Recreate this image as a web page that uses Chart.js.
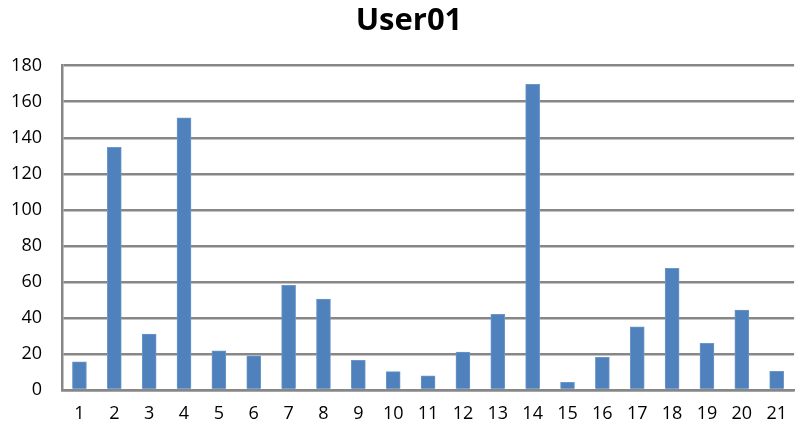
<!DOCTYPE html>
<html>
<head>
<meta charset="utf-8">
<script src="https://cdn.jsdelivr.net/npm/chart.js@4/dist/chart.umd.min.js"></script>
<style>
  html, body { margin: 0; padding: 0; background: #fff; overflow: hidden; }
  #wrap { width: 800px; height: 428px; position: relative; }
</style>
</head>
<body>
<div id="wrap"><canvas id="c"></canvas></div>
<script>
// Per-item counts for User01
const categories = ['1','2','3','4','5','6','7','8','9','10','11','12','13','14','15','16','17','18','19','20','21'];
const values = [15.7, 134.7, 31.1, 151, 21.8, 19, 58.1, 50.5, 16.5, 10.2, 7.9, 21.1, 42, 169.7, 4.3, 18.1, 35.1, 67.5, 25.9, 44.4, 10.4];
const yTicks = [0, 20, 40, 60, 80, 100, 120, 140, 160, 180];
const chartTitle = 'User01';

const gridGray = '#878787';
const tickFont = { family: "'Open Sans', 'DejaVu Sans', sans-serif", size: 18 };

// Center the title a little right of the canvas middle
const titleShift = {
  id: 'titleShift',
  afterLayout(chart) {
    const t = chart.titleBlock;
    if (t) { t.left = 18; t.right = chart.width; }
  }
};

new Chart(document.getElementById('c'), {
  type: 'bar',
  data: {
    labels: categories,
    datasets: [{
      data: values,
      backgroundColor: '#4f81bd',
      borderColor: '#6d97c9',
      borderWidth: 1,
      barThickness: 14
    }]
  },
  options: {
    responsive: true,
    maintainAspectRatio: false,
    animation: false,
    layout: { padding: { left: 0, right: 1, top: 0, bottom: 0 } },
    plugins: {
      legend: { display: false },
      tooltip: { enabled: false },
      title: {
        display: true,
        text: chartTitle,
        color: '#000',
        font: { family: "'Open Sans', 'DejaVu Sans', sans-serif", size: 31, weight: 'bold' },
        padding: { top: 3, bottom: 25.5 }
      }
    },
    scales: {
      x: {
        grid: { display: false, drawTicks: false },
        border: { display: true, color: gridGray, width: 2.5 },
        ticks: { color: '#000', font: tickFont, padding: 13, maxRotation: 0, autoSkip: false },
        afterFit: (s) => { s.height = 38; }
      },
      y: {
        min: 0,
        max: 180,
        afterBuildTicks: (s) => { s.ticks = yTicks.map(v => ({ value: v })); },
        grid: { color: gridGray, lineWidth: 2.5, drawTicks: false },
        border: { display: true, color: gridGray, width: 2.5 },
        ticks: { color: '#000', font: tickFont, padding: 20 },
        afterFit: (s) => { s.width = 62; }
      }
    }
  },
  plugins: [titleShift]
});
</script>
</body>
</html>
